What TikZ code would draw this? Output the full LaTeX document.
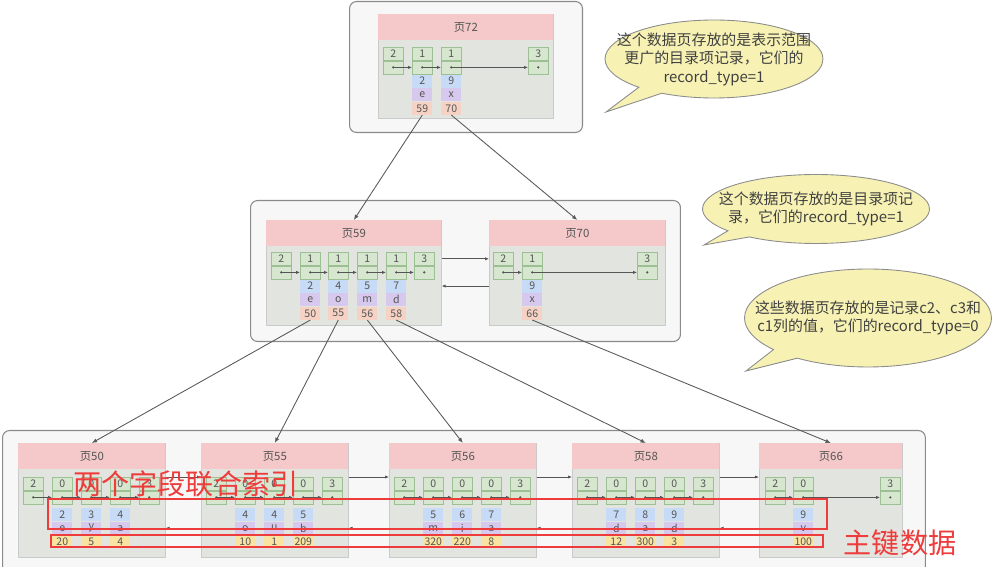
\documentclass[tikz,border=0pt]{standalone}
\usepackage{fontspec}
\setmainfont{Noto Sans CJK SC}
\usepackage{tikz}
\usetikzlibrary{
  arrows.meta,
  positioning,
  shapes.callouts
}
\definecolor{Slate}{HTML}{555555}
\definecolor{TierLine}{HTML}{8A8A8A}
\definecolor{TierFill}{HTML}{F7F7F7}
\definecolor{PageGray}{HTML}{E2E4DF}
\definecolor{PageLine}{HTML}{CACACA}
\definecolor{HeadPink}{HTML}{F5C9C9}
\definecolor{RecFill}{HTML}{D6E6CF}
\definecolor{RecLine}{HTML}{9CBF94}
\definecolor{KeyBlue}{HTML}{C7DBF7}
\definecolor{LetPurple}{HTML}{D7C9EE}
\definecolor{ValPeach}{HTML}{F6D2C4}
\definecolor{ValYellow}{HTML}{F9E3A0}
\definecolor{TreeGray}{HTML}{5A5A5A}
\definecolor{NoteYellow}{HTML}{F7F2B4}
\definecolor{NoteLine}{HTML}{8C8C8C}
\definecolor{RedNote}{HTML}{EE3B3B}

\begin{document}
\begin{tikzpicture}[
  x=0.02cm,y=-0.02cm,
  tier/.style={draw=TierLine,fill=TierFill,rounded corners=4pt,
    anchor=north west,inner sep=0pt,line width=0.6pt},
  pagebox/.style={draw=PageLine,fill=PageGray,anchor=north west,
    inner sep=0pt,line width=0.4pt},
  pagehead/.style={fill=HeadPink,anchor=north west,inner sep=0pt,
    minimum height=0.52cm,font=\fontsize{6.5}{7}\selectfont,text=Slate},
  slot/.style={inner sep=0pt,minimum width=0.4cm,minimum height=0.26cm,
    text=Slate,line width=0.35pt,font=\fontsize{6}{7}\selectfont},
  rec/.style={slot,draw=RecLine,fill=RecFill,anchor=north west},
  recptr/.style={slot,draw=RecLine,fill=RecFill},
  keyc/.style={slot,fill=KeyBlue},
  letc/.style={slot,fill=LetPurple},
  valc/.style={slot,fill=ValPeach},
  leafval/.style={slot,fill=ValYellow},
  ptr/.style={-{Latex[length=2.2pt,width=1.8pt]},draw=Slate,line width=0.4pt},
  treearrow/.style={-{Latex[length=3pt,width=2.4pt]},draw=TreeGray,line width=0.5pt},
  bubble/.style={ellipse callout,draw=NoteLine,fill=NoteYellow,
    line width=0.5pt,inner sep=0pt},
  bubbletext/.style={align=center,font=\fontsize{8.5}{10.5}\selectfont,text=black!75},
  redtext/.style={text=RedNote,font=\fontsize{16}{18}\selectfont},
  redbox/.style={draw=RedNote,line width=0.6pt}
]
\useasboundingbox (0,0) rectangle (998,567);

% three levels of the index
\node[tier,minimum width=4.66cm,minimum height=2.62cm] (tier1) at (349,1) {};
\node[tier,minimum width=8.6cm,minimum height=2.82cm] (tier2) at (250,200) {};
\node[tier,minimum width=18.46cm,minimum height=3.0cm] (tier3) at (2,430) {};

% root page
\node[pagebox,minimum width=3.5cm,minimum height=2.08cm] (b72) at (378,14) {};
\node[pagehead,minimum width=3.5cm] (h72) at (b72.north west) {页72};
\foreach \rt/\x [count=\i] in {2/383,1/412,1/441,3/528} {
  \node[rec] (r72-\i) at (\x,47) {\rt};
  \node[recptr,below=0pt of r72-\i] (q72-\i) {};
  \fill[Slate] (q72-\i.center) circle (0.7pt);
}
\foreach \i [evaluate=\i as \j using int(\i+1)] in {1,...,3}
  \draw[ptr] (q72-\i.center) -- (q72-\j.west);
\foreach \ka/\kb/\pk [count=\i from 2] in {2/e/59,9/x/70} {
  \node[keyc,below=0pt of q72-\i] (k72-\i) {\ka};
  \node[letc,below=0pt of k72-\i] (l72-\i) {\kb};
  \node[valc,below=0pt of l72-\i] (v72-\i) {\pk};
}

% middle pages
\node[pagebox,minimum width=3.5cm,minimum height=2.1cm] (b59) at (266,220) {};
\node[pagehead,minimum width=3.5cm] (h59) at (b59.north west) {页59};
\foreach \rt/\x [count=\i] in {2/271,1/300,1/328,1/357,1/386,3/414} {
  \node[rec] (r59-\i) at (\x,252) {\rt};
  \node[recptr,below=0pt of r59-\i] (q59-\i) {};
  \fill[Slate] (q59-\i.center) circle (0.7pt);
}
\foreach \i [evaluate=\i as \j using int(\i+1)] in {1,...,5}
  \draw[ptr] (q59-\i.center) -- (q59-\j.west);
\foreach \ka/\kb/\pk [count=\i from 2] in {2/e/50,4/o/55,5/m/56,7/d/58} {
  \node[keyc,below=0pt of q59-\i] (k59-\i) {\ka};
  \node[letc,below=0pt of k59-\i] (l59-\i) {\kb};
  \node[valc,below=0pt of l59-\i] (v59-\i) {\pk};
}

\node[pagebox,minimum width=3.52cm,minimum height=2.1cm] (b70) at (489,220) {};
\node[pagehead,minimum width=3.52cm] (h70) at (b70.north west) {页70};
\foreach \rt/\x [count=\i] in {2/493,1/522,3/637} {
  \node[rec] (r70-\i) at (\x,252) {\rt};
  \node[recptr,below=0pt of r70-\i] (q70-\i) {};
  \fill[Slate] (q70-\i.center) circle (0.7pt);
}
\foreach \i [evaluate=\i as \j using int(\i+1)] in {1,2}
  \draw[ptr] (q70-\i.center) -- (q70-\j.west);
\node[keyc,below=0pt of q70-2] (k70-2) {9};
\node[letc,below=0pt of k70-2] (l70-2) {x};
\node[valc,below=0pt of l70-2] (v70-2) {66};

% leaf pages
\foreach \pg/\px in {50/18,55/201,56/389,58/572} {
  \node[pagebox,minimum width=2.94cm,minimum height=2.28cm] (b\pg) at (\px,443) {};
  \node[pagehead,minimum width=2.94cm] (h\pg) at (b\pg.north west) {页\pg};
  \foreach \rt [count=\i] in {2,0,0,0,3} {
    \node[rec] (r\pg-\i) at ({\px+5+29*(\i-1)},477) {\rt};
    \node[recptr,below=0pt of r\pg-\i] (q\pg-\i) {};
    \fill[Slate] (q\pg-\i.center) circle (0.7pt);
  }
  \foreach \i [evaluate=\i as \j using int(\i+1)] in {1,...,4}
    \draw[ptr] (q\pg-\i.center) -- (q\pg-\j.west);
}
\node[pagebox,minimum width=2.86cm,minimum height=2.28cm] (b66) at (759,443) {};
\node[pagehead,minimum width=2.86cm] (h66) at (b66.north west) {页66};
\foreach \rt/\x [count=\i] in {2/765,0/793,3/880} {
  \node[rec] (r66-\i) at (\x,477) {\rt};
  \node[recptr,below=0pt of r66-\i] (q66-\i) {};
  \fill[Slate] (q66-\i.center) circle (0.7pt);
}
\foreach \i [evaluate=\i as \j using int(\i+1)] in {1,2}
  \draw[ptr] (q66-\i.center) -- (q66-\j.west);

\foreach \ka/\kb/\pk [count=\i from 2] in {2/e/20,3/y/5,4/a/4} {
  \node[keyc,below=2pt of q50-\i] (k50-\i) {\ka};
  \node[letc,below=0pt of k50-\i] (l50-\i) {\kb};
  \node[leafval,below=0pt of l50-\i] (v50-\i) {\pk};
}
\foreach \ka/\kb/\pk [count=\i from 2] in {4/o/10,4/u/1,5/b/209} {
  \node[keyc,below=2pt of q55-\i] (k55-\i) {\ka};
  \node[letc,below=0pt of k55-\i] (l55-\i) {\kb};
  \node[leafval,below=0pt of l55-\i] (v55-\i) {\pk};
}
\foreach \ka/\kb/\pk [count=\i from 2] in {5/m/320,6/i/220,7/a/8} {
  \node[keyc,below=2pt of q56-\i] (k56-\i) {\ka};
  \node[letc,below=0pt of k56-\i] (l56-\i) {\kb};
  \node[leafval,below=0pt of l56-\i] (v56-\i) {\pk};
}
\foreach \ka/\kb/\pk [count=\i from 2] in {7/d/12,8/a/300,9/d/3} {
  \node[keyc,below=2pt of q58-\i] (k58-\i) {\ka};
  \node[letc,below=0pt of k58-\i] (l58-\i) {\kb};
  \node[leafval,below=0pt of l58-\i] (v58-\i) {\pk};
}
\node[keyc,below=2pt of q66-2] (k66-2) {9};
\node[letc,below=0pt of k66-2] (l66-2) {v};
\node[leafval,below=0pt of l66-2] (v66-2) {100};

% links between neighbour pages
\draw[ptr] (b59.east |- r59-6) -- (b70.west |- r59-6);
\draw[ptr] (b70.west |- k59-2) -- (b59.east |- k59-2);
\foreach \a/\b in {50/55,55/56,56/58,58/66} {
  \draw[ptr] (b\a.east |- r50-1.north) -- (b\b.west |- r50-1.north);
  \draw[ptr] (b\b.west |- l50-2) -- (b\a.east |- l50-2);
}

% tree pointers
\draw[treearrow] (v72-2.south) -- (h59.north);
\draw[treearrow] (v72-3.south) -- (h70.north);
\draw[treearrow] (v59-2.south) -- (h50.north);
\draw[treearrow] (v59-3.south) -- (h55.north);
\draw[treearrow] (v59-4.south) -- (h56.north);
\draw[treearrow] (v59-5.south) -- (h58.north);
\draw[treearrow] (v70-2.south) -- (h66.north);

% callouts
\node[bubble,minimum width=4.36cm,minimum height=1.56cm,
  callout absolute pointer={(606,112)}] (note1) at (714,59) {};
\node[bubbletext] (note1t) at (note1.center)
  {这个数据页存放的是表示范围\\更广的目录项记录，它们的\\record\_type=1};
\node[bubble,minimum width=4.54cm,minimum height=1.38cm,
  callout absolute pointer={(704,245)}] (note2) at (816,209) {};
\node[bubbletext] (note2t) at (note2.center)
  {这个数据页存放的是目录项记\\录，它们的record\_type=1};
\node[bubble,minimum width=4.94cm,minimum height=1.96cm,
  callout absolute pointer={(746,371)}] (note3) at (868,318) {};
\node[bubbletext] (note3t) at (note3.center)
  {这些数据页存放的是记录c2、c3和\\c1列的值，它们的record\_type=0};

% red marks
\draw[redbox] (48,499) rectangle (827,529);
\draw[redbox] (51,535) rectangle (823,547);
\node[redtext] (idx) at (186,484) {两个字段联合索引};
\node[redtext] (pkey) at (900,543) {主键数据};
\end{tikzpicture}
\end{document}
